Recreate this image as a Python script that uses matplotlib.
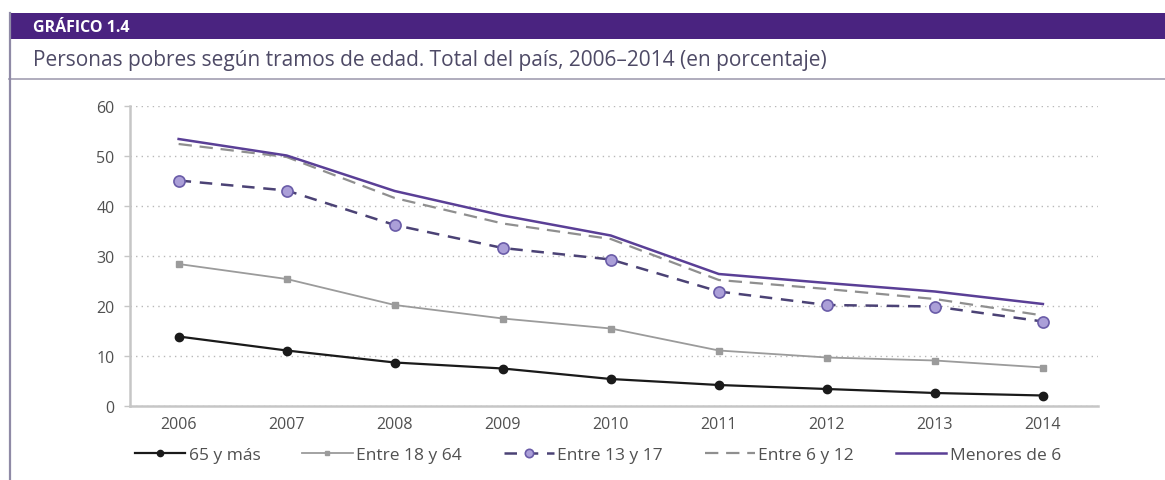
import matplotlib
matplotlib.use("Agg")
import matplotlib.pyplot as plt
from matplotlib.lines import Line2D
from matplotlib.patches import Rectangle

years = [2006, 2007, 2008, 2009, 2010, 2011, 2012, 2013, 2014]
s65 = [13.9, 11.1, 8.7, 7.5, 5.4, 4.2, 3.4, 2.6, 2.1]
s18_64 = [28.4, 25.4, 20.2, 17.5, 15.5, 11.1, 9.7, 9.1, 7.7]
s13_17 = [45.1, 43.1, 36.2, 31.6, 29.3, 22.9, 20.2, 19.9, 16.9]
s6_12 = [52.4, 49.8, 41.6, 36.5, 33.4, 25.2, 23.4, 21.4, 18.1]
s_m6 = [53.4, 50.1, 43.0, 38.1, 34.1, 26.4, 24.6, 22.9, 20.4]
labels = ["65 y más", "Entre 18 y 64", "Entre 13 y 17", "Entre 6 y 12", "Menores de 6"]
yticks = [0, 10, 20, 30, 40, 50, 60]

plt.rcParams['font.family'] = ['Open Sans', 'DejaVu Sans']

W, H = 1165, 481
fig = plt.figure(figsize=(W / 100, H / 100), dpi=100)

# header
purple = '#4a2380'
fig.patches.append(Rectangle((9 / W, 1 - 40 / H), 1 - 9 / W, 26 / H, transform=fig.transFigure,
                             facecolor=purple, edgecolor='none'))
fig.text(33 / W, 1 - 28 / H, "GRÁFICO 1.4", color='white', fontsize=11.5, fontweight='bold',
         va='center', ha='left')
fig.text(33 / W, 1 - 61 / H,
         "Personas pobres según tramos de edad. Total del país, 2006–2014 (en porcentaje)",
         color='#4e4a66', fontsize=15, va='center', ha='left')
fig.lines.append(Line2D([9 / W, 1], [1 - 80 / H, 1 - 80 / H], transform=fig.transFigure,
                        color='#a9a6b8', lw=1.3))
fig.lines.append(Line2D([10 / W, 10 / W], [0, 1 - 14 / H], transform=fig.transFigure,
                        color='#8f8aa6', lw=1.6))

ax = fig.add_axes([130 / W, 1 - 407 / H, (1098 - 130) / W, (407 - 107) / H])

ax.plot(years, s65, color='#1a1a1a', lw=1.6, marker='o', ms=6, label=labels[0], zorder=5)
ax.plot(years, s18_64, color='#9b9b9b', lw=1.3, marker='s', ms=4, label=labels[1], zorder=4)
ax.plot(years, s13_17, color='#4b4275', lw=1.8, ls=(0, (5, 3.5)), marker='o', ms=8,
        mfc='#ab9fd8', mec='#6a5ca8', mew=1.2, label=labels[2], zorder=6)
ax.plot(years, s6_12, color='#8f8f8f', lw=1.6, ls=(0, (6, 3.5)), label=labels[3], zorder=3)
ax.plot(years, s_m6, color='#5a3f96', lw=1.8, label=labels[4], zorder=4)

ax.set_xlim(2005.55, 2014.51)
ax.set_ylim(0, 60)
ax.set_xticks(years)
ax.set_yticks(yticks)
ax.grid(axis='y', color='#b8b8b8', lw=1.0, ls=(0, (1, 3)))
ax.set_axisbelow(True)
for sp in ['top', 'right']:
    ax.spines[sp].set_visible(False)
for sp in ['left', 'bottom']:
    ax.spines[sp].set_color('#c6c6c6')
    ax.spines[sp].set_linewidth(1.8)
ax.tick_params(axis='y', colors='#c6c6c6', length=4, width=1, labelcolor='#505050', labelsize=11.5, pad=7)
ax.tick_params(axis='x', length=0, labelcolor='#505050', labelsize=11.5, pad=7)

handles, labs = ax.get_legend_handles_labels()
fig.legend(handles, labs, loc='center', bbox_to_anchor=(598 / W, 1 - 456 / H), ncol=5,
           frameon=False, fontsize=12.5, handlelength=2.9, columnspacing=2.4,
           handletextpad=0.2, labelcolor='#505050', markerscale=0.75)

fig.savefig('out.png', dpi=100)
